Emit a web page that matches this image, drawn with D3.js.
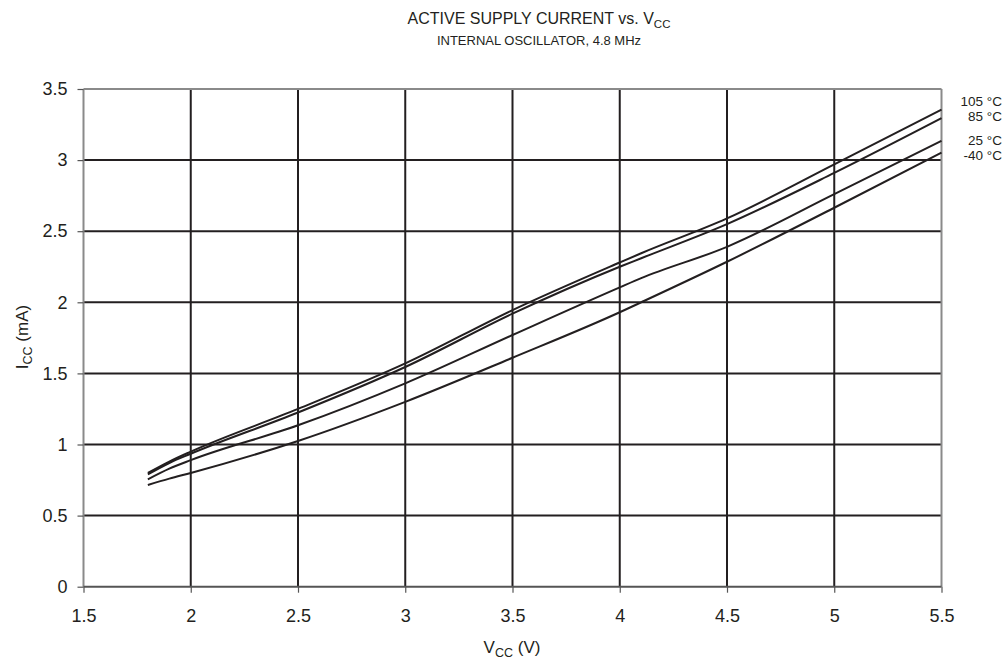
<!DOCTYPE html>
<html><head><meta charset="utf-8">
<script src="https://cdn.jsdelivr.net/npm/d3@7"></script>
<style>body{margin:0;background:#fff}svg{display:block}text{font-family:"Liberation Sans",Arial,sans-serif;fill:#231f20}</style>
</head><body><svg id="c" width="1005" height="660"></svg>
<script>
const vcc = [1.8,1.9,2.0,2.5,3.0,3.5,4.0,4.1,4.5,5.0,5.5];
const i105 = [0.80,0.88,0.95,1.25,1.57,1.945,2.28,2.345,2.59,2.97,3.355];
const i85  = [0.79,0.87,0.935,1.225,1.545,1.92,2.25,2.31,2.55,2.91,3.295];
const i25  = [0.755,0.83,0.89,1.135,1.43,1.77,2.105,2.17,2.39,2.76,3.135];
const im40 = [0.715,0.76,0.80,1.025,1.30,1.61,1.93,2.00,2.285,2.665,3.053];
const seriesNames = ["105 °C","85 °C","25 °C","-40 °C"];
const xTicks = [1.5,2,2.5,3,3.5,4,4.5,5,5.5];
const yTicks = [0,0.5,1,1.5,2,2.5,3,3.5];

const svg = d3.select("#c");
const L=83.5, R=941.5, T=89, B=586.7;
const x = d3.scaleLinear().domain([1.5,5.5]).range([L,R]);
const y = d3.scaleLinear().domain([0,3.5]).range([B,T]);
const dark="#231f20", gray="#8a8a8a";

// grid
svg.append("g").selectAll("line").data(xTicks.slice(1,-1)).join("line")
  .attr("x1",d=>x(d)).attr("x2",d=>x(d)).attr("y1",T).attr("y2",B)
  .attr("stroke",dark).attr("stroke-width",2);
svg.append("g").selectAll("line").data(yTicks.slice(1,-1)).join("line")
  .attr("x1",L).attr("x2",R).attr("y1",d=>y(d)).attr("y2",d=>y(d))
  .attr("stroke",dark).attr("stroke-width",2);
// border
svg.append("line").attr("x1",L).attr("x2",R).attr("y1",T).attr("y2",T).attr("stroke",gray).attr("stroke-width",2);
svg.append("line").attr("x1",R).attr("x2",R).attr("y1",T).attr("y2",B).attr("stroke",gray).attr("stroke-width",2);
svg.append("line").attr("x1",L).attr("x2",L).attr("y1",T).attr("y2",B).attr("stroke",gray).attr("stroke-width",2);
svg.append("line").attr("x1",L).attr("x2",R).attr("y1",B).attr("y2",B).attr("stroke","#555").attr("stroke-width",2);

// axes
const xa = svg.append("g").attr("transform",`translate(0,${B})`)
  .call(d3.axisBottom(x).tickValues(xTicks).tickSize(6).tickPadding(17).tickFormat(d3.format("")));
xa.select(".domain").remove();
xa.selectAll("line").attr("stroke","#555").attr("stroke-width",1.2);
xa.selectAll("text").style("font-size","18px").attr("fill",dark);
const ya = svg.append("g").attr("transform",`translate(${L},0)`)
  .call(d3.axisLeft(y).tickValues(yTicks).tickSize(6).tickPadding(10).tickFormat(d3.format("")));
ya.select(".domain").remove();
ya.selectAll("line").attr("stroke","#555").attr("stroke-width",1.2);
ya.selectAll("text").style("font-size","18px").attr("fill",dark);

// lines
const all=[i105,i85,i25,im40];
const line=d3.line().x((d,i)=>x(vcc[i])).y(d=>y(d)).curve(d3.curveMonotoneX);
svg.append("g").selectAll("path").data(all).join("path")
  .attr("d",line).attr("fill","none").attr("stroke",dark).attr("stroke-width",2);

// series labels
const labelY=[101.5,116,140,155.3];
svg.append("g").selectAll("text").data(seriesNames).join("text")
  .attr("x",1002).attr("y",(d,i)=>labelY[i]).attr("dy","0.35em").attr("text-anchor","end")
  .style("font-size","13.5px").text(d=>d);

// titles
const t=svg.append("text").attr("x",539).attr("y",24).attr("text-anchor","middle").style("font-size","16px");
t.append("tspan").text("ACTIVE SUPPLY CURRENT vs. V");
t.append("tspan").attr("dy",4).style("font-size","11.5px").text("CC");
svg.append("text").attr("x",539).attr("y",45).attr("text-anchor","middle").style("font-size","13px").text("INTERNAL OSCILLATOR, 4.8 MHz");

const xl=svg.append("text").attr("x",512).attr("y",653).attr("text-anchor","middle").style("font-size","17px");
xl.append("tspan").text("V");
xl.append("tspan").attr("dy",4).style("font-size","12.5px").text("CC");
xl.append("tspan").attr("dy",-4).text(" (V)");

const yl=svg.append("text").attr("transform","translate(28,337) rotate(-90)").attr("text-anchor","middle").style("font-size","17px");
yl.append("tspan").text("I");
yl.append("tspan").attr("dy",4).style("font-size","12.5px").text("CC");
yl.append("tspan").attr("dy",-4).text(" (mA)");
</script></body></html>
